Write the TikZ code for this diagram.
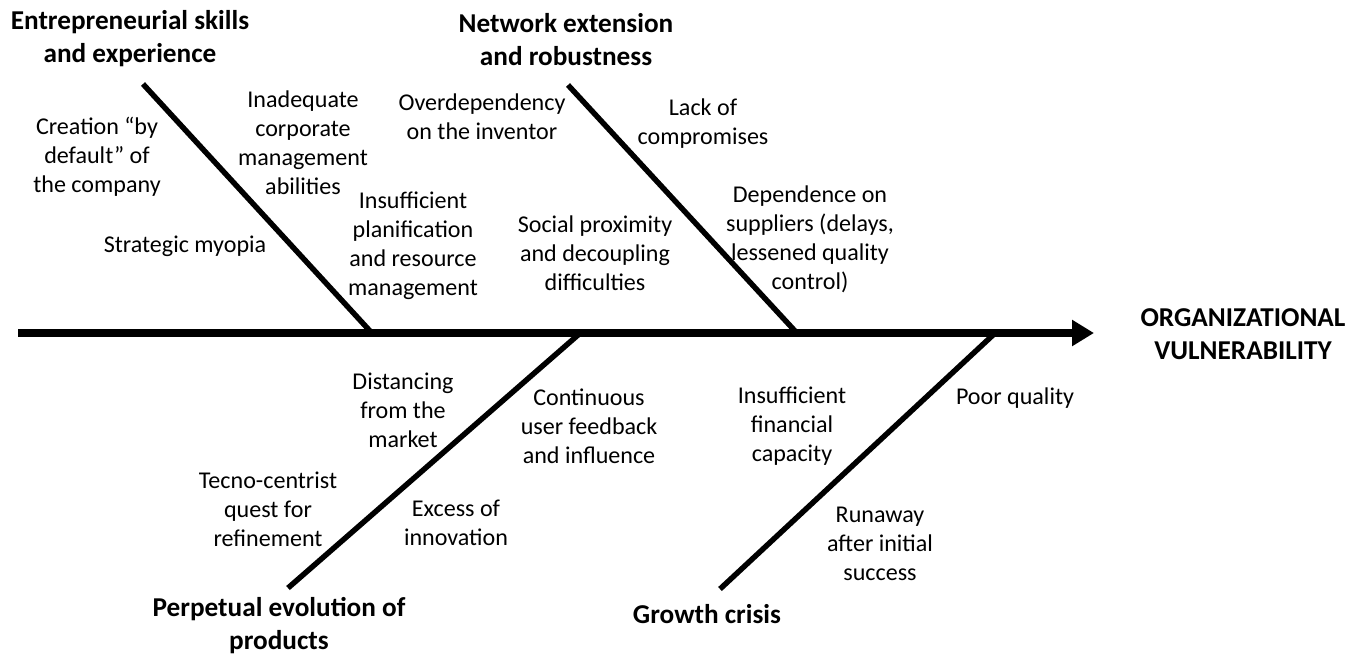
\documentclass[tikz,border=0pt]{standalone}
\usepackage{fontspec}
\setmainfont{Carlito}
\usetikzlibrary{arrows.meta}

\tikzset{
  cause/.style={align=center, inner sep=0pt, font=\fontsize{13.7}{16.5}\selectfont},
  group/.style={align=center, inner sep=0pt, font=\bfseries\fontsize{15.5}{18.8}\selectfont},
  bone/.style={line width=3.1pt},
  spine/.style={line width=4pt, -{Triangle[length=0.44cm,width=0.5cm]}}
}

\begin{document}
\begin{tikzpicture}[x=0.02cm, y=-0.02cm]
    \useasboundingbox (0,0) rectangle (1365,657);

    % Spina principale
    \coordinate (tail) at (18,333);
    \coordinate (head) at (1094,333);
    \draw[spine] (tail) -- (head);
    \node[group] (effect) at (1243,334) {ORGANIZATIONAL\\VULNERABILITY};

    % Lische superiori
    \coordinate (skillsTop) at (143,84);
    \coordinate (skillsEnd) at (370,331);
    \coordinate (netTop) at (568,85);
    \coordinate (netEnd) at (795,331);
    \draw[bone] (skillsTop) -- (skillsEnd);
    \draw[bone] (netTop) -- (netEnd);

    % Lische inferiori
    \coordinate (prodBot) at (288,588);
    \coordinate (prodEnd) at (578,335);
    \coordinate (growBot) at (720,589);
    \coordinate (growEnd) at (993,335);
    \draw[bone] (prodBot) -- (prodEnd);
    \draw[bone] (growBot) -- (growEnd);

    % Categorie
    \node[group] (skills) at (130,39) {Entrepreneurial skills\\and experience};
    \node[group] (network) at (566,40) {Network extension\\and robustness};
    \node[group] (products) at (279,626) {Perpetual evolution of\\products};
    \node[group] (growth) at (707,614) {Growth crisis};

    % Cause: competenze
    \node[cause] (creation) at (97,157) {Creation “by\\default” of\\the company};
    \node[cause] (myopia) at (185,246) {Strategic myopia};
    \node[cause] (inadequate) at (303,143) {Inadequate\\corporate\\management\\abilities};
    \node[cause] (planif) at (413,246) {Insufficient\\planification\\and resource\\management};

    % Cause: rete
    \node[cause] (overdep) at (482,117) {Overdependency\\on the inventor};
    \node[cause] (lack) at (703,124) {Lack of\\compromises};
    \node[cause] (social) at (595,253) {Social proximity\\and decoupling\\difficulties};
    \node[cause] (suppliers) at (810,239) {Dependence on\\suppliers (delays,\\lessened quality\\control)};

    % Cause: prodotti
    \node[cause] (distancing) at (403,410) {Distancing\\from the\\market};
    \node[cause] (feedback) at (589,426) {Continuous\\user feedback\\and influence};
    \node[cause] (tecno) at (268,509) {Tecno-centrist\\quest for\\refinement};
    \node[cause] (excess) at (456,523) {Excess of\\innovation};

    % Cause: crescita
    \node[cause] (financial) at (792,426) {Insufficient\\financial\\capacity};
    \node[cause] (poor) at (1015,398) {Poor quality};
    \node[cause] (runaway) at (880,544) {Runaway\\after initial\\success};
\end{tikzpicture}
\end{document}
